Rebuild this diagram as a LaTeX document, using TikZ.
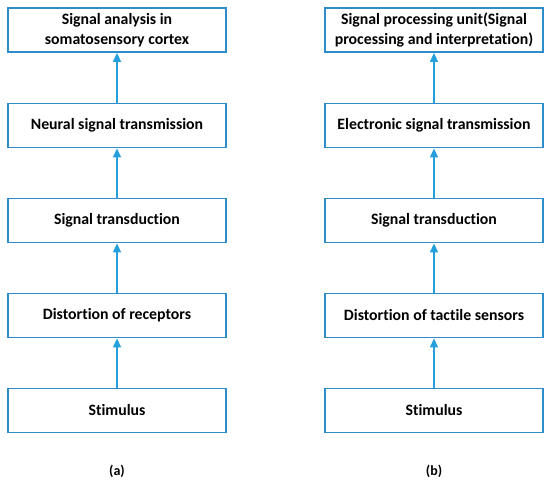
\documentclass[tikz,border=0pt]{standalone}
\usepackage{fontspec}
\setmainfont{Carlito}[Ligatures={NoCommon}]
\usetikzlibrary{arrows.meta}
\definecolor{boxblue}{HTML}{2E8CCB}
\definecolor{arrblue}{HTML}{25A0DC}
\tikzset{
  flowbox/.style={draw=boxblue, line width=1.8pt, fill=white, minimum width=218pt, minimum height=44pt, inner sep=0pt, align=center, font=\bfseries\fontsize{15.8}{20.5}\selectfont, text=black},
  flowarrow/.style={draw=arrblue, line width=1.5pt, -{Triangle[width=8pt,length=9pt]}},
  caption/.style={font=\bfseries\fontsize{14}{16}\selectfont}
}
\begin{document}
\begin{tikzpicture}[x=1pt,y=-1pt]
\useasboundingbox (0,0) rectangle (550,483);
% left column
\node[flowbox] (a5) at (117,30) {Signal analysis in\\somatosensory cortex};
\node[flowbox] (a4) at (117,125.5) {Neural signal transmission};
\node[flowbox] (a3) at (117,220.5) {Signal transduction};
\node[flowbox] (a2) at (117,315.5) {Distortion of receptors};
\node[flowbox] (a1) at (117,410.5) {Stimulus};
\node[caption] (ca) at (117,471) {(a)};
% right column
\node[flowbox] (b5) at (434,30) {Signal processing unit(Signal\\processing and interpretation)};
\node[flowbox] (b4) at (434,125.5) {Electronic signal transmission};
\node[flowbox] (b3) at (434,220.5) {Signal transduction};
\node[flowbox] (b2) at (434,315.5) {Distortion of tactile sensors};
\node[flowbox] (b1) at (434,410.5) {Stimulus};
\node[caption] (cb) at (434,471) {(b)};
% arrows
\foreach \s/\t in {a1/a2,a2/a3,a3/a4,a4/a5,b1/b2,b2/b3,b3/b4,b4/b5}
  \draw[flowarrow] (\s.north) -- (\t.south);
\end{tikzpicture}
\end{document}
